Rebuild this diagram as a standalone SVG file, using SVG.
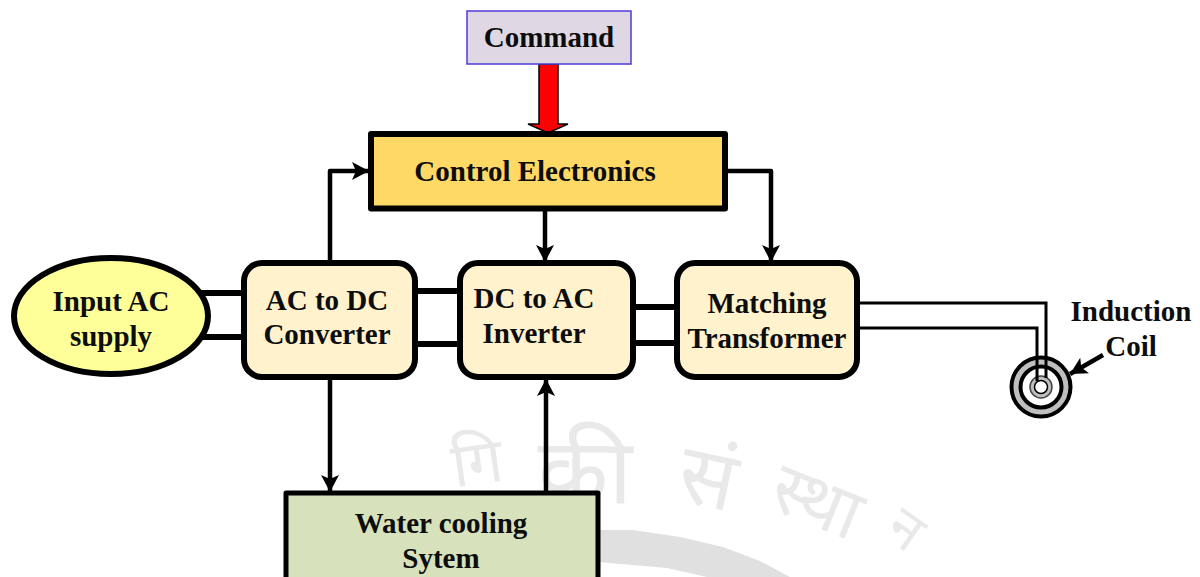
<svg xmlns="http://www.w3.org/2000/svg" width="1200" height="577" viewBox="0 0 1200 577">
<style>
text{font-family:"Liberation Serif","Times New Roman",serif;font-weight:bold;fill:#0d0d0d;text-anchor:middle}
.t{font-size:29px}
.box{fill:#fff2cc;stroke:#000;stroke-width:6}
.c{fill:none;stroke:#000;stroke-width:4.5;stroke-linejoin:round}
.b{fill:none;stroke:#000;stroke-width:6}
.w{fill:none;stroke:#000;stroke-width:3}
.wm{font-family:"Noto Sans","DejaVu Sans",sans-serif;font-weight:normal;fill:#e9e9e9;text-anchor:middle}
</style>
<defs>
<marker id="ah" markerUnits="userSpaceOnUse" markerWidth="20" markerHeight="20" refX="17" refY="10" orient="auto"><path d="M0 1L17 10L0 19L4 10Z" fill="#000"/></marker>
</defs>
<rect width="1200" height="577" fill="#fff"/>
<path d="M598 530L633 530L680 537L723 547L760 561L790 577L707 577L667 568L598 562Z" fill="#e0e0e0"/>
<g id="watermark">
<text class="wm" font-size="62" transform="translate(480 484) rotate(-8)">गि</text>
<text class="wm" font-size="92" transform="translate(585 503) rotate(0)">की</text>
<text class="wm" font-size="84" transform="translate(702 506) rotate(12)">सं</text>
<text class="wm" font-size="72" transform="translate(808 524) rotate(22)">स्था</text>
<text class="wm" font-size="56" transform="translate(895 545) rotate(35)">न</text>
</g>
<g id="connectors">
<path class="c" d="M330 264V171H369" marker-end="url(#ah)"/>
<path class="c" d="M545 208V262" marker-end="url(#ah)"/>
<path class="c" d="M725 171H771V262" marker-end="url(#ah)"/>
<path class="c" d="M330 377V492" marker-end="url(#ah)"/>
<path class="c" d="M546 493V379" marker-end="url(#ah)"/>
<path class="b" d="M200 293H244M200 337H244M415 291H460M415 344H460M633 307H677M633 343H677"/>
<path class="c" d="M1103 355L1070 374" marker-end="url(#ah)"/>
<path d="M539 64H558V124H568L548 133L528 124H539Z" fill="#f00" stroke="#000" stroke-width="1.5"/>
</g>
<g id="command"><rect x="467" y="11" width="164" height="53" fill="#dfd8e4" stroke="#4f3bdc" stroke-width="1.5"/><text class="t" x="549" y="46.7">Command</text></g>
<g id="control"><rect x="371" y="134" width="354" height="74.5" fill="#ffd966" stroke="#000" stroke-width="6" stroke-linejoin="round"/><text class="t" x="535" y="180.7">Control Electronics</text></g>
<g id="input"><ellipse cx="111" cy="316" rx="97" ry="58" fill="#ffff99" stroke="#000" stroke-width="6"/><text class="t" x="111" y="310.7">Input AC</text><text class="t" x="111" y="345.7">supply</text></g>
<g id="rectifier"><rect class="box" x="244" y="263" width="171" height="114" rx="18"/><text class="t" x="327" y="309.7">AC to DC</text><text class="t" x="327" y="343.7">Converter</text></g>
<g id="inverter"><rect class="box" x="460" y="263" width="173" height="114" rx="18"/><text class="t" x="534" y="307.7">DC to AC</text><text class="t" x="534" y="342.7">Inverter</text></g>
<g id="transformer"><rect class="box" x="677" y="263" width="180" height="114" rx="18"/><text class="t" x="767" y="312.7">Matching</text><text class="t" x="767" y="347.7">Transformer</text></g>
<g id="cooling"><rect x="286" y="493" width="312" height="90" fill="#d7e2bc" stroke="#000" stroke-width="5" stroke-linejoin="round"/><text class="t" x="441" y="532.7">Water cooling</text><text class="t" x="441" y="567.7">Sytem</text></g>
<g id="coil">
<circle cx="1041" cy="387" r="29.5" fill="#bfbfbf" stroke="#000" stroke-width="4"/>
<circle cx="1041" cy="387" r="20.5" fill="#fff" stroke="#000" stroke-width="4"/>
<circle cx="1041" cy="387" r="11" fill="#bfbfbf" stroke="#444" stroke-width="1.5"/>
<circle cx="1041" cy="387" r="6.5" fill="#fff" stroke="#000" stroke-width="1.5"/>
<path class="w" d="M857 303H1046V378M857 328H1037V381"/>
<text class="t" x="1131" y="320.7">Induction</text><text class="t" x="1131" y="355.7">Coil</text>
</g>
</svg>
